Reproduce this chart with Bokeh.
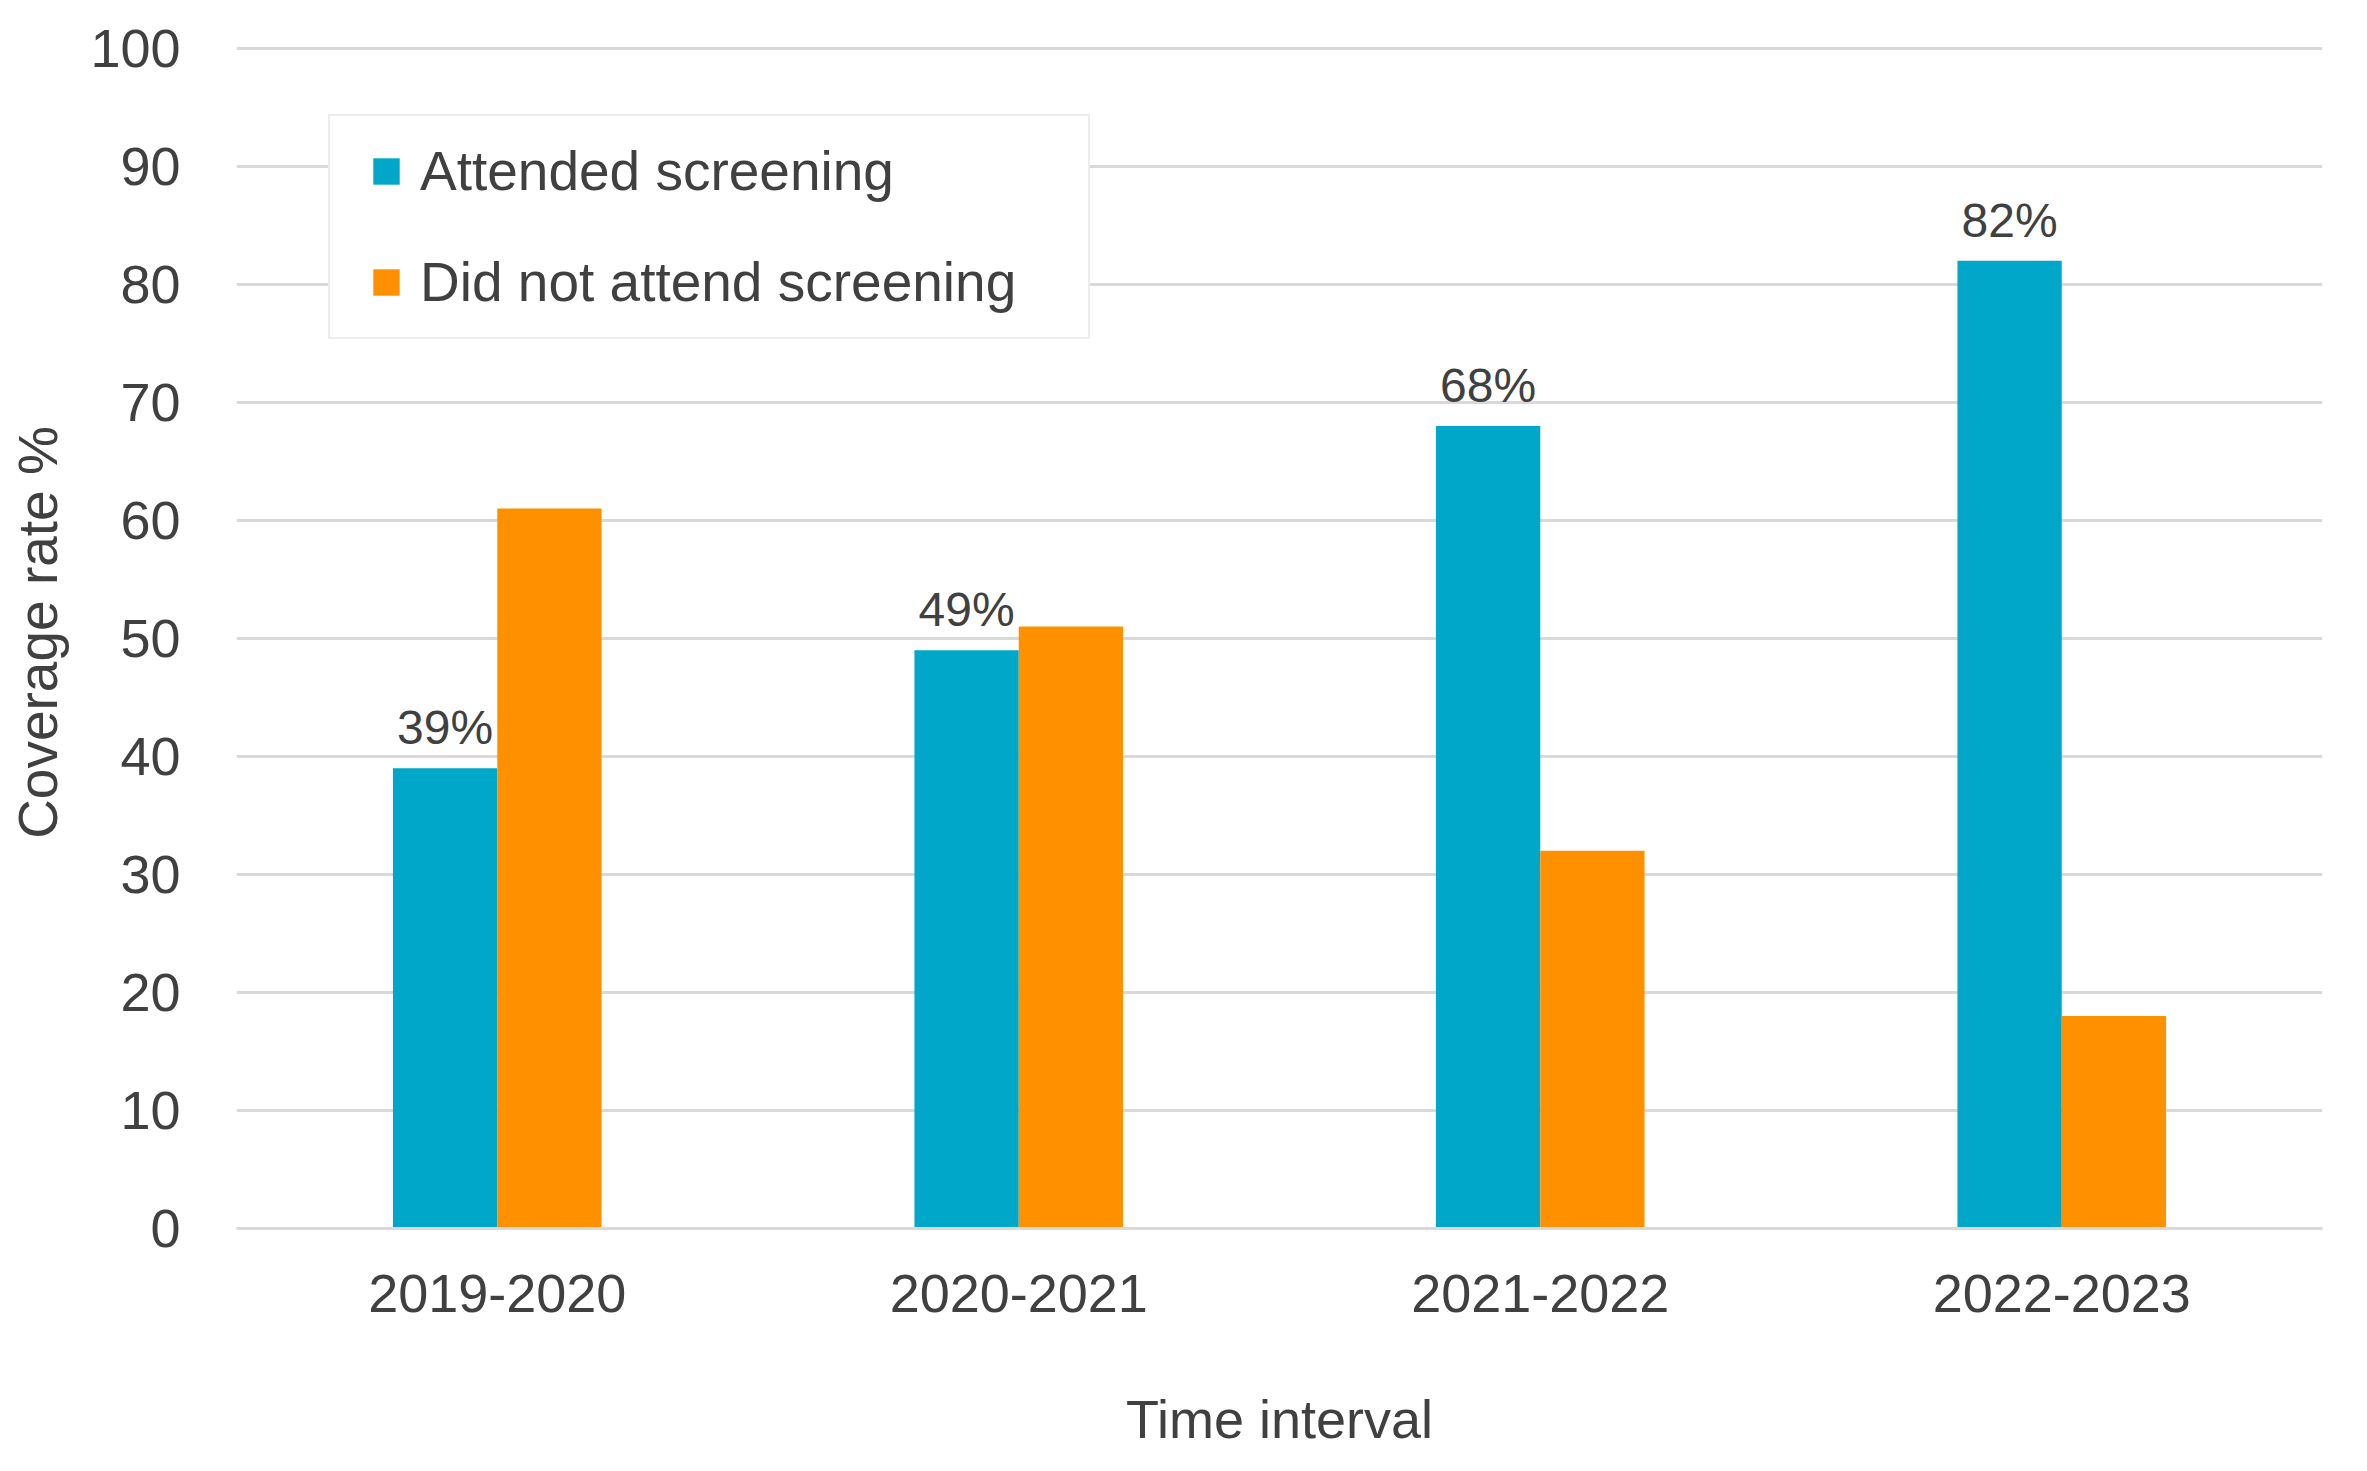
from bokeh.plotting import figure
from bokeh.models import (ColumnDataSource, FactorRange, Range1d, FixedTicker,
                          Legend, LegendItem, LabelSet)
from bokeh.core.properties import value
from bokeh.transform import dodge
from bokeh.embed import file_html
from bokeh.resources import INLINE

intervals = ["2019-2020", "2020-2021", "2021-2022", "2022-2023"]
attended = [39, 49, 68, 82]
not_attended = [61, 51, 32, 18]
attended_labels = ["39%", "49%", "68%", "82%"]
y_ticks = [0, 10, 20, 30, 40, 50, 60, 70, 80, 90, 100]

BLUE = "#00A7C8"
ORANGE = "#FF9100"
TEXT = "#404040"
GRID = "#d9d9d9"
FONT = "Liberation Sans"

source = ColumnDataSource(data=dict(interval=intervals, attended=attended,
                                    not_attended=not_attended,
                                    label=attended_labels))

p = figure(x_range=FactorRange(*intervals, range_padding=0),
           y_range=Range1d(0, 101),
           frame_width=2086, frame_height=1192,
           min_border_left=236, min_border_right=30,
           min_border_top=36, min_border_bottom=227,
           output_backend="svg", toolbar_location=None,
           x_axis_label="Time interval", y_axis_label="Coverage rate %")

p.vbar(x=dodge("interval", -0.1, range=p.x_range), top="attended", width=0.2,
       source=source, fill_color=BLUE, line_color=None)
p.vbar(x=dodge("interval", 0.1, range=p.x_range), top="not_attended", width=0.2,
       source=source, fill_color=ORANGE, line_color=None)

# legend swatches: zero-size markers, the legend sizes them itself
sw1 = p.scatter(x=dodge("interval", -0.1, range=p.x_range), y="attended", size=0,
                marker="square", source=source, fill_color=BLUE, line_color=None)
sw2 = p.scatter(x=dodge("interval", 0.1, range=p.x_range), y="not_attended", size=0,
                marker="square", source=source, fill_color=ORANGE, line_color=None)

labels = LabelSet(x=dodge("interval", -0.1, range=p.x_range), y="attended",
                  text="label", source=source, y_offset=24,
                  text_align="center", text_baseline="alphabetic",
                  text_font=value(FONT), text_font_size="48px", text_color=TEXT)
p.add_layout(labels)

legend = Legend(items=[LegendItem(label="Attended screening", renderers=[sw1]),
                       LegendItem(label="Did not attend screening", renderers=[sw2])],
                location=(92, 889), orientation="vertical",
                glyph_width=68, glyph_height=66, label_standoff=0,
                label_width=646, label_height=66, spacing=45,
                padding=22, margin=0,
                label_text_font=FONT, label_text_font_size="55px",
                label_text_color=TEXT, label_text_baseline="middle",
                border_line_color=GRID, border_line_width=2,
                background_fill_color="white", background_fill_alpha=1)
p.add_layout(legend)

p.outline_line_color = None
p.xgrid.grid_line_color = None
p.ygrid.grid_line_color = GRID
p.ygrid.grid_line_width = 3
p.yaxis.ticker = FixedTicker(ticks=y_ticks)

p.yaxis.axis_line_color = None
p.xaxis.axis_line_color = GRID
p.xaxis.axis_line_width = 3
for ax in (p.xaxis, p.yaxis):
    ax.major_tick_line_color = None
    ax.minor_tick_line_color = None
    ax.major_label_text_font = FONT
    ax.major_label_text_font_size = "54px"
    ax.major_label_text_color = TEXT
    ax.axis_label_text_font = FONT
    ax.axis_label_text_font_size = "55px"
    ax.axis_label_text_font_style = "normal"
    ax.axis_label_text_color = TEXT
p.xaxis.axis_label_text_font_size = "54px"

p.yaxis.major_label_standoff = 50
p.yaxis.axis_label_standoff = 18
p.xaxis.major_label_standoff = 40
p.xaxis.axis_label_standoff = 74

open("out.html", "w").write(file_html(p, INLINE))
